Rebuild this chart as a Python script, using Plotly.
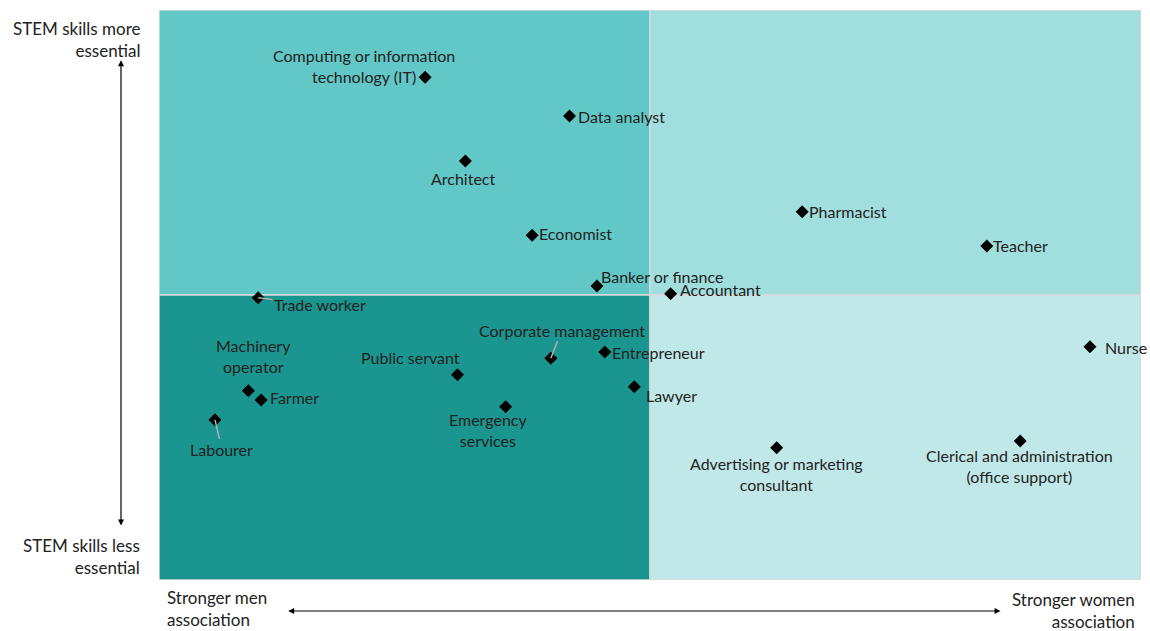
import plotly.graph_objects as go

# occupations on a 0-10 grid: x = women association, y = STEM essential
occupations = [
    "Computing or information<br>technology (IT)", "Data analyst", "Architect", "Economist",
    "Banker or finance", "Accountant", "Pharmacist", "Teacher", "Nurse",
    "Trade worker", "Machinery<br>operator", "Farmer", "Labourer", "Public servant",
    "Corporate management", "Entrepreneur", "Lawyer", "Emergency<br>services",
    "Advertising or marketing<br>consultant", "Clerical and administration<br>(office support)",
]
gender_x = [2.71, 4.18, 3.12, 3.80, 4.46, 5.21, 6.55, 8.43, 9.48,
            1.01, 0.91, 1.04, 0.57, 3.04, 3.99, 4.54, 4.84, 3.53, 6.29, 8.77]
stem_y = [8.82, 8.14, 7.35, 6.05, 5.16, 5.02, 6.46, 5.86, 4.09,
          4.95, 3.32, 3.16, 2.81, 3.60, 3.89, 4.00, 3.39, 3.04, 2.32, 2.44]

# label placement (pixel offsets from the marker)
label_style = {
    "Computing or information<br>technology (IT)": dict(xshift=-61, yshift=11, xanchor="center"),
    "Data analyst": dict(xshift=7, yshift=0, xanchor="left"),
    "Architect": dict(xshift=-2, yshift=-17, xanchor="center"),
    "Economist": dict(xshift=5, yshift=2, xanchor="left"),
    "Banker or finance": dict(xshift=2, yshift=9, xanchor="left"),
    "Accountant": dict(xshift=7, yshift=4, xanchor="left"),
    "Pharmacist": dict(xshift=5, yshift=0, xanchor="left"),
    "Teacher": dict(xshift=4, yshift=0, xanchor="left"),
    "Nurse": dict(xshift=13, yshift=-1, xanchor="left"),
    "Machinery<br>operator": dict(xshift=5, yshift=35, xanchor="center"),
    "Farmer": dict(xshift=7, yshift=2, xanchor="left"),
    "Public servant": dict(xshift=-47, yshift=17, xanchor="center"),
    "Entrepreneur": dict(xshift=5, yshift=0, xanchor="left"),
    "Lawyer": dict(xshift=10, yshift=-9, xanchor="left"),
    "Emergency<br>services": dict(xshift=-18, yshift=-23, xanchor="center"),
    "Advertising or marketing<br>consultant": dict(xshift=0, yshift=-26, xanchor="center"),
    "Clerical and administration<br>(office support)": dict(xshift=-1, yshift=-25, xanchor="center"),
}
# labels joined to their marker by a leader line (ax, ay in pixels)
leader_style = {
    "Trade worker": (62, 7),
    "Labourer": (7, 30),
    "Corporate management": (11, -28),
}

FONT = "Lato"
TEXT = "#222222"

fig = go.Figure()

quadrants = [
    (0, 5, 5, 10, "#62c7c7"),
    (5, 10, 5, 10, "#a1dede"),
    (0, 5, 0, 5, "#1a958f"),
    (5, 10, 0, 5, "#c1e8e8"),
]
for x0, x1, y0, y1, col in quadrants:
    fig.add_shape(type="rect", x0=x0, x1=x1, y0=y0, y1=y1, xref="x", yref="y",
                  fillcolor=col, line=dict(color="#d9d9d9", width=1.5), layer="below")

fig.add_trace(go.Scatter(
    x=gender_x, y=stem_y, mode="markers",
    marker=dict(symbol="diamond", size=10, color="black"),
    hovertext=[o.replace("<br>", " ") for o in occupations], hoverinfo="text",
    showlegend=False, cliponaxis=False,
))

for name, x, y in zip(occupations, gender_x, stem_y):
    if name in leader_style:
        ax, ay = leader_style[name]
        fig.add_annotation(x=x, y=y, text=name, showarrow=True, ax=ax, ay=ay,
                           arrowhead=0, arrowwidth=1.5, arrowcolor="#b0b0b0",
                           font=dict(family=FONT, size=16, color=TEXT))
    else:
        st = label_style[name]
        fig.add_annotation(x=x, y=y, text=name, showarrow=False, align="center",
                           yanchor="middle", font=dict(family=FONT, size=16, color=TEXT), **st)

# axis captions
caption_font = dict(family=FONT, size=17, color=TEXT)
fig.add_annotation(xref="paper", yref="paper", x=-0.0173, y=1.0, text="STEM skills more<br>essential",
                   showarrow=False, xanchor="right", yanchor="top", align="right", font=caption_font, yshift=-6)
fig.add_annotation(xref="paper", yref="paper", x=-0.0173, y=0.0, text="STEM skills less<br>essential",
                   showarrow=False, xanchor="right", yanchor="bottom", align="right", font=caption_font, yshift=0)
fig.add_annotation(xref="paper", yref="paper", x=0.006, y=0, text="Stronger men<br>association",
                   showarrow=False, xanchor="left", yanchor="top", align="left", font=caption_font, yshift=-5)
fig.add_annotation(xref="paper", yref="paper", x=0.9955, y=0, text="Stronger women<br>association",
                   showarrow=False, xanchor="right", yanchor="top", align="right", font=caption_font, yshift=-7)

# double-headed arrows
arrow = dict(text="", showarrow=True, arrowhead=2, arrowside="end+start", arrowsize=1,
             arrowwidth=1.2, arrowcolor="black",
             xref="x domain", yref="y domain", axref="x domain", ayref="y domain")
fig.add_annotation(x=-0.0387, y=0.912, ax=-0.0387, ay=0.093, **arrow)
fig.add_annotation(x=0.857, y=-0.0544, ax=0.130, ay=-0.0544, **arrow)

fig.update_xaxes(range=[0, 10], visible=False, showgrid=False, zeroline=False)
fig.update_yaxes(range=[0, 10], visible=False, showgrid=False, zeroline=False)
fig.update_layout(
    width=1150, height=631,
    margin=dict(l=159, r=9, t=10, b=51),
    paper_bgcolor="white", plot_bgcolor="white",
    showlegend=False,
)

# drop the default page margin so the 1150x631 figure fills the window
fig.write_html("out.html", config={"displayModeBar": False},
               post_script="document.body.style.margin='0';")
